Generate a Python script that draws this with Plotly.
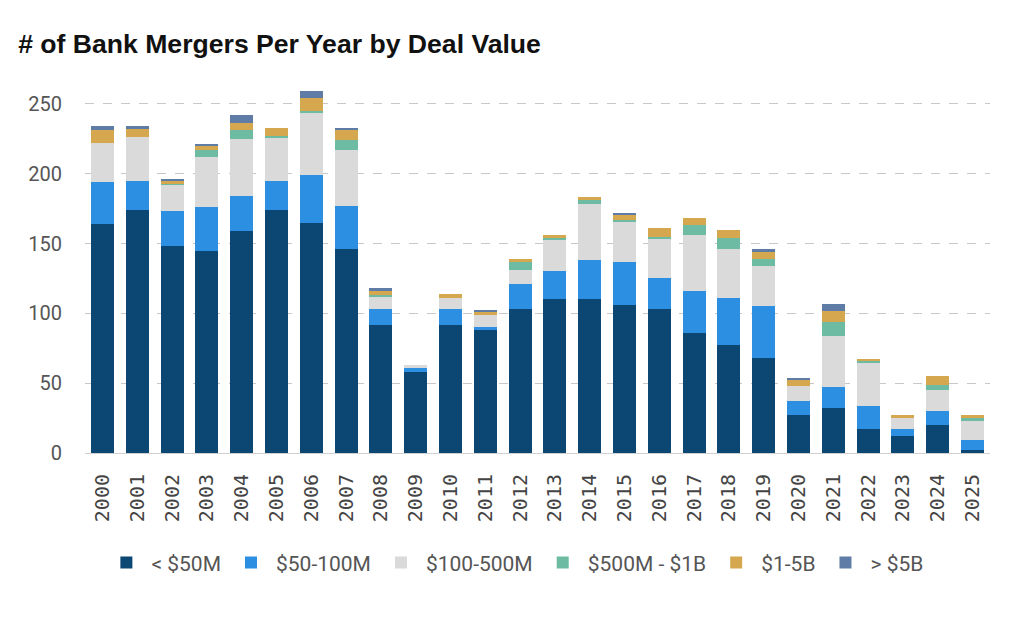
import plotly.graph_objects as go

years = [str(y) for y in range(2000, 2026)]

under_50m = [164, 174, 148, 145, 159, 174, 165, 146, 92, 58, 92, 88, 103,
             110, 110, 106, 103, 86, 77, 68, 27, 32, 17, 12, 20, 2]
m50_100 = [30, 21, 25, 31, 25, 21, 34, 31, 11, 3, 11, 2, 18,
           20, 28, 31, 22, 30, 34, 37, 10, 15, 17, 5, 10, 7]
m100_500 = [28, 31, 19, 36, 41, 31, 45, 40, 9, 2, 8, 9, 10,
            23, 40, 29, 28, 40, 35, 29, 11, 37, 31, 8, 15, 14]
m500_1b = [0, 0, 1, 5, 6, 1, 1, 7, 1, 0, 0, 0, 6,
           1, 3, 1, 2, 7, 8, 5, 0, 10, 1, 0, 4, 2]
b1_5 = [9, 6, 2, 3, 5, 6, 9, 7, 3, 0, 3, 2, 2,
        2, 2, 4, 6, 5, 6, 5, 4, 8, 1, 2, 6, 2]
over_5b = [3, 2, 1, 1, 6, 0, 5, 2, 2, 0, 0, 1, 0,
           0, 0, 1, 0, 0, 0, 2, 2, 5, 0, 0, 0, 0]

series = [
    ("< $50M", under_50m, "#0c4673"),
    ("$50-100M", m50_100, "#2d8fe2"),
    ("$100-500M", m100_500, "#dadada"),
    ("$500M - $1B", m500_1b, "#6dbba2"),
    ("$1-5B", b1_5, "#d5a850"),
    ("> $5B", over_5b, "#5e7ca6"),
]

fig = go.Figure()
for name, vals, col in series:
    fig.add_trace(go.Bar(x=years, y=vals, name=name, marker_color=col,
                         marker_line_width=0))

# the page body adds 8px, so margins are shifted to compensate
fig.update_layout(
    barmode="stack",
    bargap=0.34,
    width=1014,
    height=619,
    plot_bgcolor="white",
    paper_bgcolor="white",
    margin=dict(l=77, r=32, t=75, b=174),
    title=dict(text="<b># of Bank Mergers Per Year by Deal Value</b>",
               x=0.01, xanchor="left", y=0.943, yanchor="middle",
               font=dict(family="Liberation Sans", size=26.6, color="#111111")),
    legend=dict(orientation="h", x=0.475, xanchor="center", y=-0.297,
                yanchor="middle", font=dict(family="Roboto", size=21, color="#555555"),
                itemsizing="constant", itemwidth=40, traceorder="normal"),
    font=dict(family="Roboto", color="#555555"),
)
fig.update_yaxes(range=[0, 265], tickvals=[0, 50, 100, 150, 200, 250],
                 showgrid=True, gridcolor="#c8c8c8", griddash="dash",
                 zeroline=False, ticks="", ticklabelstandoff=22,
                 tickfont=dict(family="Roboto", size=20, color="#555555"))
fig.update_xaxes(tickangle=-90, showline=True, linecolor="#d0d0d0",
                 linewidth=1, ticks="", ticklabelstandoff=12,
                 tickfont=dict(family="DejaVu Sans Mono", size=20, color="#444444"))

fig.write_html("out.html")
